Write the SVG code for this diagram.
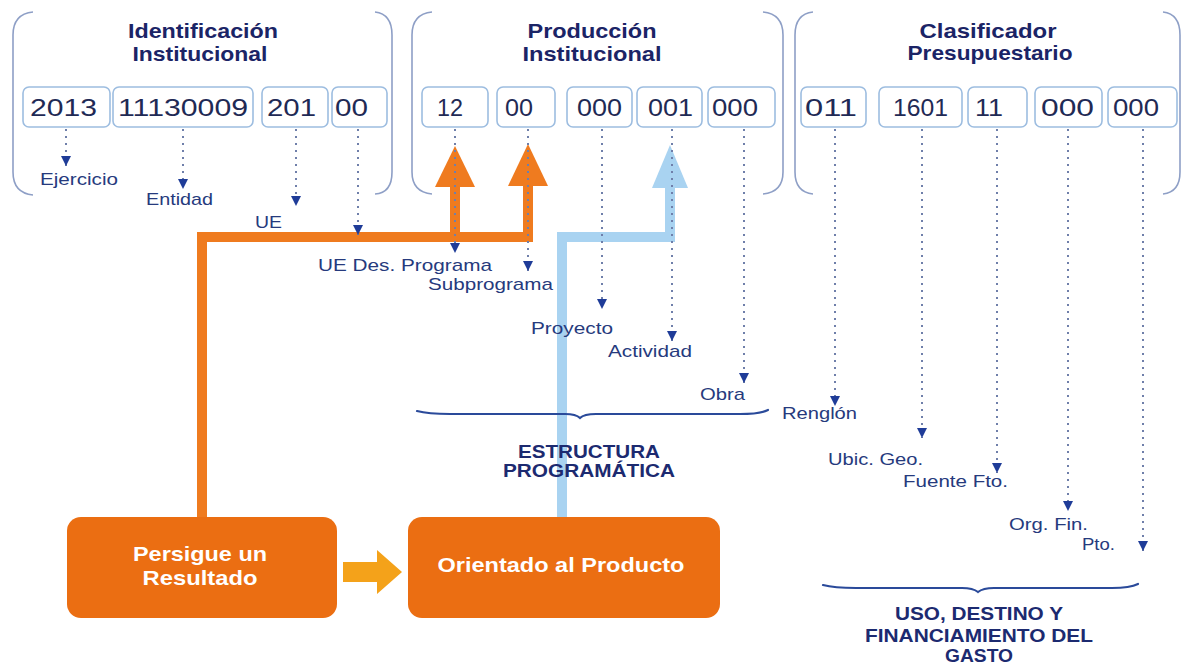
<svg xmlns="http://www.w3.org/2000/svg" width="1182" height="668" viewBox="0 0 1182 668">
<defs>
<style>
.bg{fill:#ffffff}
.brk{fill:none;stroke:#8e9fc6;stroke-width:1.6}
.box{fill:#ffffff;stroke:#9dbde0;stroke-width:1.6}
.num{font-family:"Liberation Sans",Arial,sans-serif;font-size:24px;fill:#1f2a55}
.ttl{font-family:"Liberation Sans",Arial,sans-serif;font-size:21px;font-weight:bold;fill:#1b2466;text-anchor:middle}
.lbl{font-family:"Liberation Sans",Arial,sans-serif;font-size:17px;fill:#263a7d}
.sec{font-family:"Liberation Sans",Arial,sans-serif;font-size:19px;font-weight:bold;fill:#1c2a70;text-anchor:middle}
.wt{font-family:"Liberation Sans",Arial,sans-serif;font-size:21px;font-weight:bold;fill:#ffffff;text-anchor:middle}
.dot{fill:none;stroke:#6f7faa;stroke-width:2;stroke-dasharray:2 5}
.org{fill:none;stroke:#ef7b1f;stroke-width:10;stroke-linejoin:miter}
.orgh{fill:#ef7b1f}
.blu{fill:none;stroke:#a9d3f1;stroke-width:10;stroke-linejoin:miter}
.bluh{fill:#a9d3f1}
.node{fill:#eb6e12}
.brace{fill:none;stroke:#2a4a9a;stroke-width:2.2;stroke-linecap:round}
</style>
<marker id="ah" viewBox="0 0 10 10" refX="10" refY="5" markerWidth="11" markerHeight="10" markerUnits="userSpaceOnUse" orient="auto">
<path d="M0,0 L10,5 L0,10 z" fill="#1f3c98"/>
</marker>
</defs>
<rect class="bg" x="0" y="0" width="1182" height="668"/>

<g id="brackets">
<path class="brk" d="M33,12 Q13,14 13,35 V172 Q13,193 33,195"/>
<path class="brk" d="M375,12 Q392,14 392,35 V172 Q392,193 375,194"/>
<path class="brk" d="M432,12 Q412,14 412,35 V172 Q412,192 432,194"/>
<path class="brk" d="M763,12 Q783,14 783,35 V172 Q783,192 763,194"/>
<path class="brk" d="M813,12 Q795,14 795,35 V172 Q795,192 813,194"/>
<path class="brk" d="M1163,12 Q1180,14 1180,35 V172 Q1180,192 1163,194"/>
</g>

<g id="title-identificacion">
<text class="ttl" x="203" y="38" textLength="150" lengthAdjust="spacingAndGlyphs">Identificación</text>
<text class="ttl" x="200" y="61" textLength="135" lengthAdjust="spacingAndGlyphs">Institucional</text>
</g>
<g id="title-produccion">
<text class="ttl" x="592" y="38" textLength="129" lengthAdjust="spacingAndGlyphs">Producción</text>
<text class="ttl" x="592" y="61" textLength="139" lengthAdjust="spacingAndGlyphs">Institucional</text>
</g>
<g id="title-clasificador">
<text class="ttl" x="988" y="38" textLength="137" lengthAdjust="spacingAndGlyphs">Clasificador</text>
<text class="ttl" x="990" y="60" textLength="165" lengthAdjust="spacingAndGlyphs">Presupuestario</text>
</g>

<g id="connectors">
<path class="org" d="M202,517 V237 H528 V184"/>
<path class="org" d="M455,237 V185"/>
<polygon class="orgh" points="435,187 475,187 455,146"/>
<polygon class="orgh" points="508,186 548,186 528,144"/>
<path class="blu" d="M562,517 V237 H670 V186"/>
<polygon class="bluh" points="652,188 688,188 670,145"/>
<polygon fill="#f4a21a" points="343,562 377,562 377,550 402,572 377,594 377,582 343,582"/>
</g>

<g id="braces">
<path class="brace" d="M417,411 Q428,414 450,414 L565,414 Q576,414 580,418 Q584,414 596,414 L740,414 Q760,414 768,410"/>
<path class="brace" d="M823,585 Q834,588 856,588 L962,588 Q973,588 978,592 Q983,588 994,588 L1112,588 Q1130,588 1138,584"/>
</g>

<g id="code-2013"><rect class="box" x="23" y="87" width="87" height="40" rx="6"/><text class="num" x="30" y="116" textLength="67" lengthAdjust="spacingAndGlyphs">2013</text></g>
<g id="code-11130009"><rect class="box" x="113" y="87" width="140" height="40" rx="6"/><text class="num" x="118" y="116" textLength="130" lengthAdjust="spacingAndGlyphs">11130009</text></g>
<g id="code-201"><rect class="box" x="262" y="87" width="66" height="40" rx="6"/><text class="num" x="267" y="116" textLength="49" lengthAdjust="spacingAndGlyphs">201</text></g>
<g id="code-00a"><rect class="box" x="332" y="87" width="55" height="40" rx="6"/><text class="num" x="335" y="116" textLength="33" lengthAdjust="spacingAndGlyphs">00</text></g>

<g id="code-12"><rect class="box" x="422" y="87" width="66" height="40" rx="6"/><text class="num" x="437" y="116" textLength="26" lengthAdjust="spacingAndGlyphs">12</text></g>
<g id="code-00b"><rect class="box" x="497" y="87" width="58" height="40" rx="6"/><text class="num" x="505" y="116" textLength="28" lengthAdjust="spacingAndGlyphs">00</text></g>
<g id="code-000a"><rect class="box" x="567" y="87" width="65" height="40" rx="6"/><text class="num" x="577" y="116" textLength="45" lengthAdjust="spacingAndGlyphs">000</text></g>
<g id="code-001"><rect class="box" x="637" y="87" width="65" height="40" rx="6"/><text class="num" x="648" y="116" textLength="45" lengthAdjust="spacingAndGlyphs">001</text></g>
<g id="code-000b"><rect class="box" x="708" y="87" width="67" height="40" rx="6"/><text class="num" x="712" y="116" textLength="46" lengthAdjust="spacingAndGlyphs">000</text></g>

<g id="code-011"><rect class="box" x="801" y="87" width="65" height="40" rx="6"/><text class="num" x="805" y="116" textLength="52" lengthAdjust="spacingAndGlyphs">011</text></g>
<g id="code-1601"><rect class="box" x="879" y="87" width="83" height="40" rx="6"/><text class="num" x="893" y="116" textLength="55" lengthAdjust="spacingAndGlyphs">1601</text></g>
<g id="code-11"><rect class="box" x="968" y="87" width="59" height="40" rx="6"/><text class="num" x="975" y="116" textLength="28" lengthAdjust="spacingAndGlyphs">11</text></g>
<g id="code-000c"><rect class="box" x="1035" y="87" width="67" height="40" rx="6"/><text class="num" x="1041" y="116" textLength="53" lengthAdjust="spacingAndGlyphs">000</text></g>
<g id="code-000d"><rect class="box" x="1108" y="87" width="69" height="40" rx="6"/><text class="num" x="1113" y="116" textLength="46" lengthAdjust="spacingAndGlyphs">000</text></g>

<g id="dotted-connectors">
<line class="dot" x1="66" y1="129" x2="66" y2="166" marker-end="url(#ah)"/>
<line class="dot" x1="183" y1="129" x2="183" y2="189" marker-end="url(#ah)"/>
<line class="dot" x1="296" y1="129" x2="296" y2="206" marker-end="url(#ah)"/>
<line class="dot" x1="358" y1="129" x2="358" y2="235" marker-end="url(#ah)"/>
<line class="dot" x1="455" y1="129" x2="455" y2="253" marker-end="url(#ah)"/>
<line class="dot" x1="528" y1="129" x2="528" y2="271" marker-end="url(#ah)"/>
<line class="dot" x1="602" y1="129" x2="602" y2="309" marker-end="url(#ah)"/>
<line class="dot" x1="672" y1="129" x2="672" y2="341" marker-end="url(#ah)"/>
<line class="dot" x1="744" y1="129" x2="744" y2="383" marker-end="url(#ah)"/>
<line class="dot" x1="835" y1="129" x2="835" y2="406" marker-end="url(#ah)"/>
<line class="dot" x1="922" y1="129" x2="922" y2="438" marker-end="url(#ah)"/>
<line class="dot" x1="997" y1="129" x2="997" y2="473" marker-end="url(#ah)"/>
<line class="dot" x1="1068" y1="129" x2="1068" y2="511" marker-end="url(#ah)"/>
<line class="dot" x1="1143" y1="129" x2="1143" y2="551" marker-end="url(#ah)"/>
</g>

<g id="labels">
<text class="lbl" x="40" y="185" textLength="78" lengthAdjust="spacingAndGlyphs">Ejercicio</text>
<text class="lbl" x="146" y="205" textLength="67" lengthAdjust="spacingAndGlyphs">Entidad</text>
<text class="lbl" x="255" y="228" textLength="27" lengthAdjust="spacingAndGlyphs">UE</text>
<text class="lbl" x="318" y="271" textLength="174" lengthAdjust="spacingAndGlyphs">UE Des. Programa</text>
<text class="lbl" x="428" y="290" textLength="125" lengthAdjust="spacingAndGlyphs">Subprograma</text>
<text class="lbl" x="531" y="334" textLength="82" lengthAdjust="spacingAndGlyphs">Proyecto</text>
<text class="lbl" x="608" y="357" textLength="84" lengthAdjust="spacingAndGlyphs">Actividad</text>
<text class="lbl" x="700" y="400" textLength="45" lengthAdjust="spacingAndGlyphs">Obra</text>
<text class="lbl" x="782" y="419" textLength="75" lengthAdjust="spacingAndGlyphs">Renglón</text>
<text class="lbl" x="828" y="465" textLength="95" lengthAdjust="spacingAndGlyphs">Ubic. Geo.</text>
<text class="lbl" x="903" y="487" textLength="105" lengthAdjust="spacingAndGlyphs">Fuente Fto.</text>
<text class="lbl" x="1009" y="530" textLength="79" lengthAdjust="spacingAndGlyphs">Org. Fin.</text>
<text class="lbl" x="1082" y="550" textLength="33" lengthAdjust="spacingAndGlyphs">Pto.</text>
</g>

<g id="section-estructura">
<text class="sec" x="589" y="458" textLength="142" lengthAdjust="spacingAndGlyphs">ESTRUCTURA</text>
<text class="sec" x="589" y="477" textLength="172" lengthAdjust="spacingAndGlyphs">PROGRAMÁTICA</text>
</g>
<g id="section-uso">
<text class="sec" x="979" y="620" textLength="168" lengthAdjust="spacingAndGlyphs">USO, DESTINO Y</text>
<text class="sec" x="979" y="642" textLength="228" lengthAdjust="spacingAndGlyphs">FINANCIAMIENTO DEL</text>
<text class="sec" x="979" y="662" textLength="68" lengthAdjust="spacingAndGlyphs">GASTO</text>
</g>

<g id="node-resultado">
<rect class="node" x="67" y="517" width="270" height="101" rx="14"/>
<text class="wt" x="200" y="561" textLength="134" lengthAdjust="spacingAndGlyphs">Persigue un</text>
<text class="wt" x="200" y="585" textLength="115" lengthAdjust="spacingAndGlyphs">Resultado</text>
</g>
<g id="node-producto">
<rect class="node" x="408" y="517" width="312" height="101" rx="14"/>
<text class="wt" x="561" y="572" textLength="247" lengthAdjust="spacingAndGlyphs">Orientado al Producto</text>
</g>
</svg>
